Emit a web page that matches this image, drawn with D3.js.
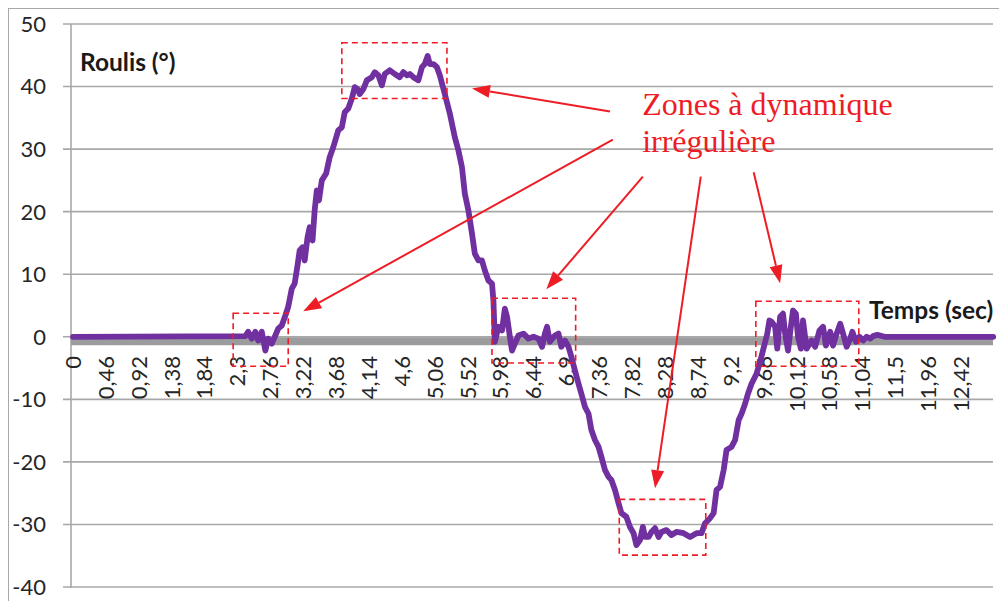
<!DOCTYPE html>
<html>
<head>
<meta charset="utf-8">
<script src="https://cdn.jsdelivr.net/npm/d3@7/dist/d3.min.js"></script>
<style>
  html, body { margin: 0; padding: 0; background: #fff; }
  svg { display: block; }
</style>
</head>
<body>
<svg id="chart" width="999" height="601"></svg>
<script>
// Roll angle (degrees) versus time (seconds)
const timeSec = [
  0, 2.41, 2.45, 2.50, 2.55, 2.59, 2.64, 2.69, 2.73, 2.78, 2.83, 2.87, 2.92, 2.97,
  3.01, 3.06, 3.10, 3.14, 3.17, 3.21, 3.24, 3.28, 3.31, 3.35, 3.38, 3.41, 3.44, 3.48,
  3.54, 3.59, 3.64, 3.71, 3.76, 3.80, 3.85, 3.90, 3.94, 3.98, 4.01, 4.06, 4.11, 4.18,
  4.22, 4.27, 4.32, 4.36, 4.43, 4.50, 4.57, 4.62, 4.67, 4.71, 4.76, 4.83, 4.88, 4.92,
  4.96, 4.99, 5.04, 5.09, 5.13, 5.20, 5.27, 5.34, 5.39, 5.44, 5.48, 5.53, 5.58, 5.62,
  5.67, 5.72, 5.76, 5.81, 5.86, 5.88, 5.90, 5.95, 6.00, 6.04, 6.07, 6.11, 6.14, 6.18,
  6.23, 6.30, 6.37, 6.44, 6.51, 6.56, 6.60, 6.63, 6.67, 6.74, 6.79, 6.83, 6.88, 6.93,
  6.97, 7.02, 7.07, 7.11, 7.16, 7.21, 7.25, 7.30, 7.35, 7.39, 7.44, 7.49, 7.53, 7.58,
  7.63, 7.67, 7.74, 7.79, 7.84, 7.88, 7.93, 7.97, 8.00, 8.05, 8.09, 8.14, 8.19, 8.23,
  8.30, 8.37, 8.44, 8.54, 8.63, 8.72, 8.79, 8.84, 8.91, 8.96, 9.00, 9.05, 9.10, 9.14,
  9.21, 9.26, 9.31, 9.35, 9.40, 9.44, 9.49, 9.56, 9.61, 9.65, 9.71, 9.74, 9.77, 9.82,
  9.85, 9.89, 9.93, 9.96, 10.00, 10.04, 10.07, 10.11, 10.14, 10.18, 10.21, 10.26, 10.33, 10.38,
  10.44, 10.49, 10.53, 10.59, 10.63, 10.68, 10.73, 10.77, 10.82, 10.87, 10.90, 10.95, 11.00, 11.05,
  11.10, 11.15, 11.19, 11.25, 11.35, 12.87
];
const roll = [
  0, 0.1, 0.8, -0.3, 0.8, -0.6, 0.8, -2.2, -0.3, -1.1, 0.2, 1.3, 1.8, 3.4,
  4.8, 7.7, 8.5, 11.4, 13.8, 14.3, 12.2, 15.9, 17.5, 15.4, 20.2, 23.4, 21.8, 25.0,
  26.1, 28.7, 30.3, 33.0, 33.5, 35.9, 36.5, 38.1, 39.9, 39.6, 38.8, 39.6, 41.0, 41.5,
  42.3, 41.8, 40.2, 42.0, 42.6, 42.0, 41.5, 42.3, 41.8, 42.0, 41.5, 41.0, 43.1, 43.6,
  44.9, 43.6, 43.6, 43.1, 41.8, 38.8, 35.7, 31.9, 29.8, 27.1, 22.9, 20.2, 16.5, 13.3,
  12.2, 12.2, 10.6, 9.0, 8.5, 5.8, -0.8, 1.6, 1.0, 4.5, 3.2, 0, -2.2, -1.1,
  0.2, 0.5, -0.3, 0, -0.3, -1.6, 0.5, 1.6, -0.8, 0.2, 0.5, -1.6, -0.6, -1.6,
  -3.2, -5.4, -7.5, -9.1, -11.2, -12.3, -14.9, -16.5, -17.6, -19.2, -21.3, -22.4, -22.9, -24.5,
  -26.6, -28.2, -28.8, -30.4, -31.4, -33.3, -32.5, -30.4, -32.0, -32.0, -31.2, -30.6, -32.0, -31.2,
  -30.9, -31.7, -31.2, -31.4, -32.0, -31.4, -31.4, -29.8, -29.0, -28.2, -24.5, -24.0, -21.3, -18.1,
  -17.6, -16.5, -13.3, -12.3, -10.7, -9.1, -7.5, -5.9, -4.0, -2.2, 0.5, 2.6, 2.4, 1.6,
  -1.9, 3.2, 3.7, 0.5, -2.2, 1.6, 4.2, 3.7, 0, -1.9, 2.6, -1.9, -0.6, -1.6,
  1.0, 1.6, -1.4, 0.8, -1.4, 0.5, 2.1, 0.5, -1.6, -0.3, 0.8, -0.8, 0, -0.6,
  0, -0.3, 0.1, 0.3, 0, 0
];

// Category labels of the time axis (French decimal comma)
const timeLabels = [
  "0", "0,46", "0,92", "1,38", "1,84", "2,3", "2,76", "3,22", "3,68", "4,14",
  "4,6", "5,06", "5,52", "5,98", "6,44", "6,9", "7,36", "7,82", "8,28", "8,74",
  "9,2", "9,66", "10,12", "10,58", "11,04", "11,5", "11,96", "12,42"
];
const rollTicks = [50, 40, 30, 20, 10, 0, -10, -20, -30, -40];

// Highlighted zones: [t0, t1, top value, bottom value]
const zoneBoxes = [
  [2.24, 3.01, 3.75, -4.7],
  [3.76, 5.23, 47.0, 38.1],
  [5.86, 7.03, 6.15, -4.2],
  [7.64, 8.85, -26.0, -34.9],
  [9.55, 10.99, 5.67, -4.7]
];
// Arrows from the caption to the zones: [tail t, tail value, head t, head value]
const zoneArrows = [
  [7.51, 36.0, 5.58, 39.7],
  [7.55, 31.5, 3.22, 4.07],
  [7.97, 25.6, 6.62, 7.6],
  [8.78, 25.6, 8.14, -24.2],
  [9.52, 26.3, 9.89, 8.55]
];
const captionLines = ["Zones à dynamique", "irrégulière"];

const svg = d3.select("#chart");
const plotLeft = 71, plotRight = 993;

const x = d3.scaleLinear().domain([0, 12.867]).range([73, 993]);
const y = d3.scaleLinear().domain([-40, 50]).range([587, 24]);

const gridColor = "#a8a8a8";
const red = "#ee1c25";
const sans = "Lato, 'Open Sans', sans-serif";

// outer chart frame
svg.append("rect")
  .attr("x", 8.5).attr("y", 8.5)
  .attr("width", 1100).attr("height", 700)
  .attr("fill", "none").attr("stroke", "#a8a8a8").attr("stroke-width", 1);

// horizontal gridlines with tick stubs on the left
svg.append("g").selectAll("line").data(rollTicks).join("line")
  .attr("x1", plotLeft - 8).attr("x2", plotRight)
  .attr("y1", d => y(d)).attr("y2", d => y(d))
  .attr("stroke", gridColor).attr("stroke-width", 1.6);

// vertical axis line
svg.append("line")
  .attr("x1", plotLeft).attr("x2", plotLeft)
  .attr("y1", y(50)).attr("y2", y(-40) + 1)
  .attr("stroke", gridColor).attr("stroke-width", 1.6);

// value labels
svg.append("g").selectAll("text").data(rollTicks).join("text")
  .attr("x", 46).attr("y", d => y(d)).attr("dy", "0.36em")
  .attr("text-anchor", "end")
  .attr("font-family", sans)
  .attr("font-size", 22).attr("fill", "#262626")
  .text(d => d);

// horizontal time axis drawn at zero
svg.append("line")
  .attr("x1", plotLeft).attr("x2", plotRight)
  .attr("y1", y(0) + 4.5).attr("y2", y(0) + 4.5)
  .attr("stroke", "#9c9c9e").attr("stroke-width", 8);

// rotated time labels
svg.append("g").selectAll("text").data(timeLabels).join("text")
  .attr("transform", d => `translate(${x(+d.replace(",", "."))},356) rotate(-90)`)
  .attr("dy", "0.36em")
  .attr("text-anchor", "end")
  .attr("font-family", sans)
  .attr("font-size", 22).attr("fill", "#262626")
  .text(d => d);

// roll curve
const pts = timeSec.map((t, i) => [t, roll[i]]);
svg.append("path")
  .datum(pts)
  .attr("d", d3.line().x(d => x(d[0])).y(d => y(d[1])))
  .attr("fill", "none").attr("stroke", "#7030a0")
  .attr("stroke-width", 5.8).attr("stroke-linejoin", "round").attr("stroke-linecap", "round");

// axis titles
svg.append("text")
  .attr("x", 80).attr("y", 71)
  .attr("font-family", sans).attr("font-weight", "bold")
  .attr("font-size", 24.5).attr("fill", "#1a1a1a")
  .text("Roulis (°)");
svg.append("text")
  .attr("x", 869).attr("y", 319)
  .attr("font-family", sans).attr("font-weight", "bold")
  .attr("font-size", 24.5).attr("fill", "#1a1a1a")
  .text("Temps (sec)");

// dashed zone boxes
svg.append("g").selectAll("rect").data(zoneBoxes).join("rect")
  .attr("x", d => x(d[0])).attr("y", d => y(d[2]))
  .attr("width", d => x(d[1]) - x(d[0]))
  .attr("height", d => y(d[3]) - y(d[2]))
  .attr("fill", "none").attr("stroke", red)
  .attr("stroke-width", 1.6).attr("stroke-dasharray", "6,4");

// arrows
const arrowG = svg.append("g");
zoneArrows.forEach(a => {
  const x1 = x(a[0]), y1 = y(a[1]), x2 = x(a[2]), y2 = y(a[3]);
  const ang = Math.atan2(y2 - y1, x2 - x1);
  const len = 18, half = 6.5;
  const bx = x2 - len * Math.cos(ang), by = y2 - len * Math.sin(ang);
  arrowG.append("line")
    .attr("x1", x1).attr("y1", y1).attr("x2", bx).attr("y2", by)
    .attr("stroke", red).attr("stroke-width", 2);
  const px = -Math.sin(ang) * half, py = Math.cos(ang) * half;
  arrowG.append("polygon")
    .attr("points", `${x2},${y2} ${bx + px},${by + py} ${bx - px},${by - py}`)
    .attr("fill", red);
});

// caption
svg.append("g").selectAll("text").data(captionLines).join("text")
  .attr("x", x(7.96)).attr("y", (d, i) => y(35.4) + i * 37)
  .attr("font-family", "'Liberation Serif', 'Times New Roman', serif")
  .attr("font-size", 32).attr("fill", red)
  .text(d => d);
</script>
</body>
</html>
